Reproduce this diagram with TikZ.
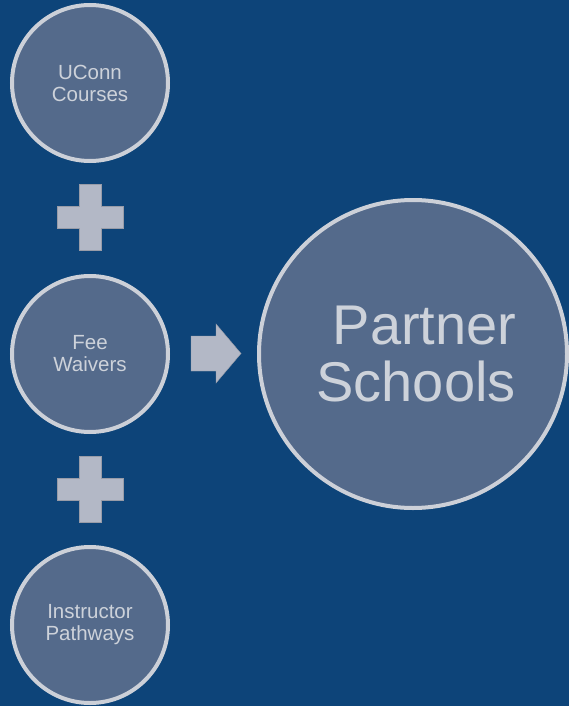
\documentclass[tikz,border=0pt]{standalone}
\usepackage{fontspec}
\setmainfont{Liberation Sans}
\definecolor{bg}{HTML}{0D4479}
\definecolor{circfill}{HTML}{546A8B}
\definecolor{rim}{HTML}{CCD0D8}
\definecolor{txt}{HTML}{CDD2DA}
\definecolor{shapec}{HTML}{B3B8C6}
\begin{document}
\begin{tikzpicture}[x=1pt,y=-1pt,
  smallc/.style={circle, fill=circfill, draw=rim, line width=4pt, minimum size=156pt, inner sep=0pt, text=txt, align=center, font=\fontsize{20.5}{22}\selectfont},
  bigc/.style={circle, fill=circfill, draw=rim, line width=4pt, minimum size=308pt, inner sep=0pt, text=txt, align=center, font=\fontsize{56}{57}\selectfont},
  deco/.style={fill=shapec, draw=shapec!85!black, line width=0.4pt}]
\fill[bg] (0,0) rectangle (569,706);
\useasboundingbox (0,0) rectangle (569,706);
\node[smallc] (uconn) at (90,83) {UConn\\Courses};
\node[smallc] (fee) at (90,354) {Fee\\Waivers};
\node[smallc] (instr) at (90,625) {Instructor\\Pathways};
\node[bigc] (partner) at (413,354) {\hspace*{23pt}Partner\\\hspace*{6pt}Schools};
% plus signs
\coordinate (p1) at (90,217);
\coordinate (p2) at (90,489);
\foreach \p in {p1,p2}{
  \path[deco] (\p) ++(-11,-33) -- ++(22,0) -- ++(0,22) -- ++(22,0) -- ++(0,22) -- ++(-22,0) -- ++(0,22) -- ++(-22,0) -- ++(0,-22) -- ++(-22,0) -- ++(0,-22) -- ++(22,0) -- cycle;
}
% arrow
\coordinate (ar) at (191,353.5);
\path[deco] (ar) ++(0,-17.5) -- ++(25,0) -- ++(0,-12) -- ++(25,29.5) -- ++(-25,29.5) -- ++(0,-12) -- ++(-25,0) -- cycle;
\end{tikzpicture}
\end{document}
